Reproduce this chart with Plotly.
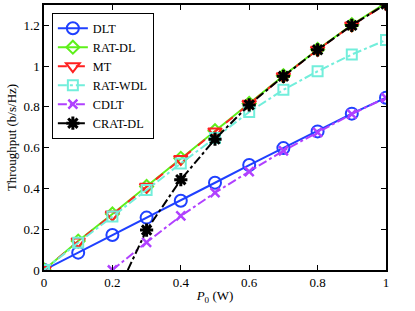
import plotly.graph_objects as go

x_all = [0, 0.1, 0.2, 0.3, 0.4, 0.5, 0.6, 0.7, 0.8, 0.9, 1.0]
dlt = [0, 0.085, 0.172, 0.257, 0.34, 0.428, 0.515, 0.598, 0.68, 0.767, 0.845]
rat_dl = [0, 0.142, 0.275, 0.41, 0.548, 0.683, 0.817, 0.953, 1.082, 1.203, 1.31]
mt = [0, 0.14, 0.272, 0.408, 0.545, 0.68, 0.815, 0.95, 1.08, 1.2, 1.305]
rat_wdl = [0, 0.134, 0.262, 0.392, 0.523, 0.648, 0.775, 0.884, 0.975, 1.057, 1.128]
x_cdlt = [0.2, 0.3, 0.4, 0.5, 0.6, 0.7, 0.8, 0.9, 1.0]
cdlt = [0, 0.136, 0.265, 0.379, 0.483, 0.585, 0.675, 0.765, 0.845]
x_crat = [0.2, 0.3, 0.4, 0.5, 0.6, 0.7, 0.8, 0.9, 1.0]
crat_dl = [-0.16, 0.196, 0.443, 0.642, 0.81, 0.95, 1.08, 1.2, 1.305]

x_ticks = [0, 0.2, 0.4, 0.6, 0.8, 1]
x_labels = ["0", "0.2", "0.4", "0.6", "0.8", "1"]
y_ticks = [0, 0.2, 0.4, 0.6, 0.8, 1, 1.2]
y_labels = ["0", "0.2", "0.4", "0.6", "0.8", "1", "1.2"]

FONT = "Liberation Serif"

fig = go.Figure()
fig.add_trace(go.Scatter(x=x_all, y=dlt, name="DLT", mode="lines+markers",
                         line=dict(color="#1f40ff", width=2),
                         marker=dict(symbol="circle-open", size=12, line=dict(width=2, color="#1f40ff"))))
fig.add_trace(go.Scatter(x=x_all, y=rat_dl, name="RAT-DL", mode="lines+markers",
                         line=dict(color="#5ef01a", width=2),
                         marker=dict(symbol="diamond-open", size=10, line=dict(width=2, color="#5ef01a"))))
fig.add_trace(go.Scatter(x=x_all, y=mt, name="MT", mode="lines+markers",
                         line=dict(color="#ff2020", width=2, dash="dash"),
                         marker=dict(symbol="triangle-down-open", size=12, line=dict(width=2, color="#ff2020"))))
fig.add_trace(go.Scatter(x=x_all, y=rat_wdl, name="RAT-WDL", mode="lines+markers",
                         line=dict(color="#72eedb", width=2, dash="dashdot"),
                         marker=dict(symbol="square-open", size=10, line=dict(width=2, color="#72eedb"))))
fig.add_trace(go.Scatter(x=x_cdlt, y=cdlt, name="CDLT", mode="lines+markers",
                         line=dict(color="#b040ff", width=2, dash="dashdot"),
                         marker=dict(symbol="x-thin", size=9, line=dict(width=2.5, color="#b040ff"))))
fig.add_trace(go.Scatter(x=x_crat, y=crat_dl, name="CRAT-DL", mode="lines+markers",
                         line=dict(color="black", width=2, dash="dashdot"),
                         marker=dict(symbol="asterisk", size=11, line=dict(width=3, color="black"))))

axis_common = dict(showline=True, linecolor="black", linewidth=1.5, mirror="ticks",
                   ticks="inside", ticklen=5, tickcolor="black", tickwidth=1,
                   showgrid=False, zeroline=False, automargin=False,
                   tickfont=dict(family=FONT, size=13, color="black"))

fig.update_xaxes(range=[0, 1], tickvals=x_ticks, ticktext=x_labels,
                 title=dict(text="<i>P</i><sub>0</sub> (W)", font=dict(family=FONT, size=13, color="black"), standoff=2),
                 **axis_common)
fig.update_yaxes(range=[0, 1.3], tickvals=y_ticks, ticktext=y_labels,
                 title=dict(text="Throughput (b/s/Hz)", font=dict(family=FONT, size=13, color="black"), standoff=4),
                 **axis_common)

fig.update_layout(
    width=415, height=311,
    margin=dict(l=44, r=29, t=5, b=41, autoexpand=False),
    paper_bgcolor="white", plot_bgcolor="white",
    font=dict(family=FONT, size=13, color="black"),
    legend=dict(x=0.023, y=0.971, xanchor="left", yanchor="top",
                bgcolor="white", bordercolor="black", borderwidth=1,
                font=dict(family=FONT, size=12.3, color="black"),
                tracegroupgap=0, itemwidth=30),
    showlegend=True,
)

fig.write_html("out.html", config={"displayModeBar": False},
               post_script="document.body.style.margin='0';")
